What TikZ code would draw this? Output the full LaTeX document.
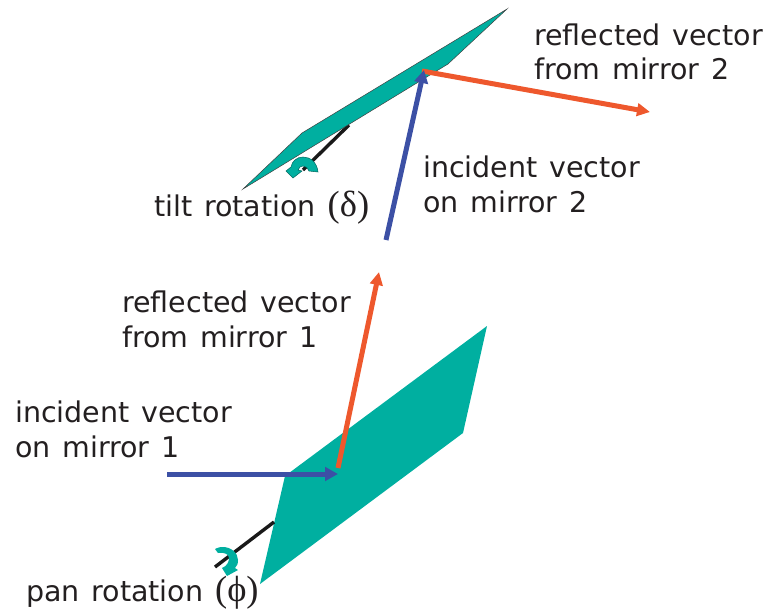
\documentclass[tikz,border=0pt]{standalone}
\usepackage{fontspec}
\setmainfont[WordSpace=1.3]{DejaVu Sans}
\newfontfamily\symfont[Scale=1.28]{Liberation Serif}
\usetikzlibrary{arrows.meta}
\definecolor{mirror}{RGB}{0,175,160}
\definecolor{incident}{RGB}{60,80,165}
\definecolor{reflected}{RGB}{238,88,45}
\definecolor{labeltext}{RGB}{35,31,32}
\tikzset{
  mirrorface/.style={fill=mirror},
  mirroredge/.style={fill=mirror,draw=black!75,line width=0.5pt,line join=miter},
  axle/.style={draw=black!90,line width=3.4pt},
  incidentray/.style={draw=incident,line width=5pt,-{Triangle[length=13pt,width=13.5pt]}},
  reflectedray/.style={draw=reflected,line width=5pt,-{Triangle[length=13pt,width=12.5pt]}},
  caption/.style={anchor=base west,align=left,text=labeltext,font=\fontsize{28.5pt}{35pt}\selectfont,inner sep=0pt},
  spin/.style={fill=mirror,draw=mirror!60!black,line width=0.5pt},
  spinb/.style={fill=mirror}
}
\begin{document}
\begin{tikzpicture}[x=1pt,y=-1pt]
\useasboundingbox (0,0) rectangle (766,610);
% bottom mirror
\coordinate (m1a) at (487,326);
\coordinate (m1b) at (463,433);
\coordinate (m1c) at (260,584);
\coordinate (m1d) at (285,476);
\path[mirrorface] (m1a) -- (m1b) -- (m1c) -- (m1d) -- cycle;
% top mirror
\coordinate (m2a) at (507,9);
\coordinate (m2b) at (448,64);
\coordinate (m2c) at (243,189);
\coordinate (m2d) at (302,133);
% axles
\coordinate (ax1s) at (215,567);
\coordinate (ax1e) at (274,522);
\draw[axle] (ax1s) -- (ax1e);
\coordinate (ax2s) at (303,170);
\coordinate (ax2e) at (349,125);
\draw[axle] (ax2s) -- (ax2e);
\path[mirroredge] (m2a) -- (m2b) -- (m2c) -- (m2d) -- cycle;
% rotation arrows
\path[spinb] (215,549) .. controls (219,547) and (221,547) .. (223,547)
  .. controls (231,547) and (238,553) .. (238,560)
  .. controls (238,564) and (237,566) .. (235,568)
  -- (238,570) -- (227,576) -- (222,568)
  .. controls (227,566) and (229,562) .. (229,558)
  .. controls (229,554) and (224,552) .. (218,553) -- cycle;
\path[spin] (318,172) .. controls (317,162) and (310,157) .. (303,157)
  .. controls (297,157) and (292,161) .. (291,167)
  -- (286,171) -- (293,178) -- (302,171) -- (298,170)
  .. controls (299,167) and (301,166) .. (303,166)
  .. controls (306,166) and (308,168) .. (309,171) -- cycle;
% rays
\coordinate (i1s) at (167,474);
\coordinate (i1e) at (338,474);
\coordinate (r1s) at (338,468);
\coordinate (r1e) at (379,272);
\coordinate (i2s) at (386,240);
\coordinate (i2e) at (424,70);
\coordinate (r2s) at (422,71);
\coordinate (r2e) at (650,112);
\draw[reflectedray] (r1s) -- (r1e);
\draw[incidentray] (i1s) -- (i1e);
\draw[reflectedray] (r2s) -- (r2e);
\draw[incidentray] (i2s) -- (i2e);
% labels
\node[caption] (t1) at (534,80) {reflected vector\\from mirror 2};
\node[caption] (t2) at (423,212) {incident vector\\on mirror 2};
\node[caption] (t3) at (154,216) {tilt rotation {\symfont (δ)}};
\node[caption] (t4) at (122,347) {reflected vector\\from mirror 1};
\node[caption] (t5) at (15,457) {incident vector\\on mirror 1};
\node[caption] (t6) at (26,601) {pan rotation {\symfont (ϕ)}};
\end{tikzpicture}
\end{document}
